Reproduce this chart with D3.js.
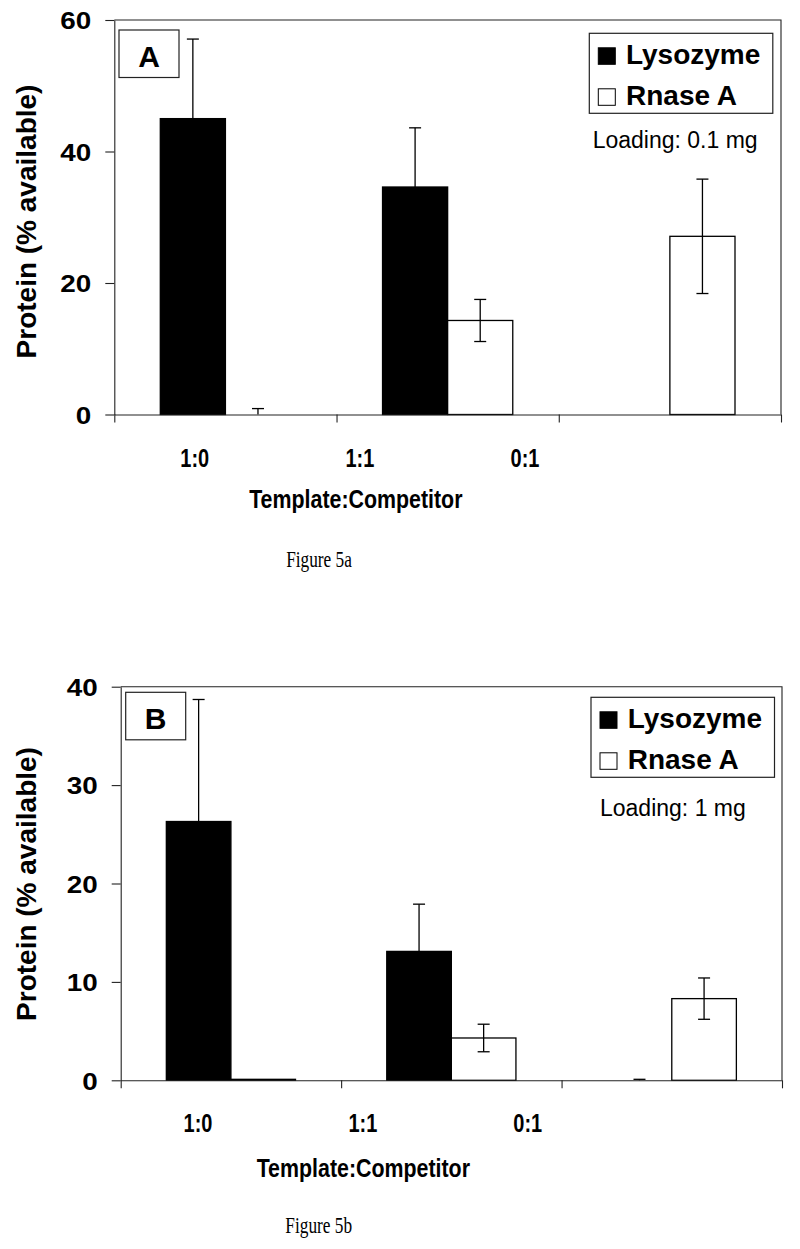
<!DOCTYPE html>
<html>
<head>
<meta charset="utf-8">
<script src="https://cdn.jsdelivr.net/npm/d3@7"></script>
<style>
  body { margin: 0; background: #fff; }
  svg { display: block; background: #fff; }
  text { font-family: Arial, 'Liberation Sans', sans-serif; fill: #000; }
  .caption { font-family: 'Times New Roman', 'Liberation Serif', serif; }
</style>
</head>
<body>
<svg id="fig" width="800" height="1249"></svg>
<script>
'use strict';

// values
var categories = ['1:0', '1:1', '0:1'];
var seriesNames = ['Lysozyme', 'Rnase A'];

var lysozymeA = [45.0, 34.6, 0];
var lysozymeErrA = [12.1, 9.0, 0];
var rnaseA = [0, 14.3, 27.1];
var rnaseErrA = [0.9, 3.2, 8.7];
var ticksA = [0, 20, 40, 60];

var lysozymeB = [26.3, 13.1, 0];
var lysozymeErrB = [12.4, 4.8, 0.1];
var rnaseB = [0.1, 4.3, 8.3];
var rnaseErrB = [0, 1.4, 2.1];
var ticksB = [0, 10, 20, 30, 40];

var panels = [
    {
        letter: 'A', loading: 'Loading: 0.1 mg', caption: 'Figure 5a',
        values: [lysozymeA, rnaseA], errors: [lysozymeErrA, rnaseErrA],
        ticks: ticksA,
        left: 114.3, right: 781, top: 20, bottom: 414.5,
        letterX: 119, letterY: 30,
        legendX: 589.3, legendY: 33.3,
        loadingX: 592.7, loadingY: 148.3,
        labelRange: [194.7, 525], labelY: 466.7,
        titleX: 355.8, titleY: 508.3,
        captionX: 319, captionY: 566.7,
        yTitleY: 221.5
    },
    {
        letter: 'B', loading: 'Loading: 1 mg', caption: 'Figure 5b',
        values: [lysozymeB, rnaseB], errors: [lysozymeErrB, rnaseErrB],
        ticks: ticksB,
        left: 120.7, right: 782, top: 686.7, bottom: 1080.3,
        letterX: 125.7, letterY: 692.3,
        legendX: 591, legendY: 697.3,
        loadingX: 600, loadingY: 816,
        labelRange: [198, 527.7], labelY: 1131.7,
        titleX: 363.3, titleY: 1176.7,
        captionX: 318.7, captionY: 1233.3,
        yTitleY: 884
    }
];

var svg = d3.select('#fig');
var lineColor = '#222';

function squeezedText(g, x, y, str, sx) {
    return g.append('text')
        .attr('transform', 'translate(' + x + ',' + y + ') scale(' + sx + ',1)')
        .attr('text-anchor', 'middle')
        .text(str);
}

panels.forEach(function(p) {
    var g = svg.append('g');
    var yMax = p.ticks[p.ticks.length - 1];

    var x = d3.scaleBand().domain(categories).range([p.left, p.right]);
    var bw = x.bandwidth();
    var barW = bw * 0.293;
    var xs = d3.scaleBand().domain(seriesNames).range([bw / 2 - barW, bw / 2 + barW]);
    var y = d3.scaleLinear().domain([0, yMax]).range([p.bottom, p.top]);

    var bars = [];
    categories.forEach(function(c, i) {
        seriesNames.forEach(function(s, j) {
            bars.push({ cat: c, s: s, idx: j, v: p.values[j][i], e: p.errors[j][i] });
        });
    });

    // bars
    g.selectAll('.bar')
        .data(bars)
        .enter().append('rect')
        .attr('class', 'bar')
        .attr('x', function(d) { return x(d.cat) + xs(d.s); })
        .attr('width', xs.bandwidth())
        .attr('y', function(d) { return y(d.v); })
        .attr('height', function(d) { return y(0) - y(d.v); })
        .attr('fill', function(d) { return d.idx === 0 ? '#000' : '#fff'; })
        .attr('stroke', '#000')
        .attr('stroke-width', 1.3);

    // error bars
    var err = g.selectAll('.err')
        .data(bars.filter(function(d) { return d.e > 0; }))
        .enter().append('g')
        .attr('class', 'err')
        .attr('transform', function(d) {
            return 'translate(' + (x(d.cat) + xs(d.s) + xs.bandwidth() / 2) + ',0)';
        })
        .attr('stroke', '#000')
        .attr('stroke-width', 1.3);
    err.append('line')
        .attr('y1', function(d) { return y(Math.max(0, d.v - d.e)); })
        .attr('y2', function(d) { return y(d.v + d.e); });
    err.append('line')
        .attr('x1', -6).attr('x2', 6)
        .attr('y1', function(d) { return y(d.v + d.e); })
        .attr('y2', function(d) { return y(d.v + d.e); });
    err.filter(function(d) { return d.v - d.e > 0; })
        .append('line')
        .attr('x1', -6).attr('x2', 6)
        .attr('y1', function(d) { return y(d.v - d.e); })
        .attr('y2', function(d) { return y(d.v - d.e); });

    // frame top + right
    g.append('path')
        .attr('d', 'M' + p.left + ',' + p.top + 'H' + p.right + 'V' + p.bottom)
        .attr('fill', 'none')
        .attr('stroke', lineColor)
        .attr('stroke-width', 1.1);

    // y axis
    var yAxis = g.append('g')
        .attr('transform', 'translate(' + p.left + ',0)')
        .call(d3.axisLeft(y).tickValues(p.ticks).tickSize(9).tickSizeOuter(0).tickPadding(14));
    yAxis.selectAll('path, line').attr('stroke', lineColor).attr('stroke-width', 1.1);
    yAxis.selectAll('text')
        .attr('font-size', 24)
        .attr('font-weight', 'bold')
        .attr('fill', '#000')
        .attr('font-family', 'Arial, Liberation Sans, sans-serif')
        .attr('dy', '0.37em')
        .attr('x', -23 / 1.16)
        .attr('transform', 'scale(1.16,1)');

    // x axis with ticks at category boundaries
    var xEdge = d3.scaleLinear().domain([0, categories.length]).range([p.left, p.right]);
    var xAxis = g.append('g')
        .attr('transform', 'translate(0,' + p.bottom + ')')
        .call(d3.axisBottom(xEdge).tickValues(d3.range(categories.length + 1))
            .tickFormat('').tickSize(8).tickSizeOuter(0));
    xAxis.selectAll('path, line').attr('stroke', lineColor).attr('stroke-width', 1.1);

    // category labels
    var labelX = d3.scalePoint().domain(categories).range(p.labelRange);
    categories.forEach(function(c) {
        squeezedText(g, labelX(c), p.labelY, c, 0.78)
            .attr('font-size', 25.6)
            .attr('font-weight', 'bold');
    });

    squeezedText(g, p.titleX, p.titleY, 'Template:Competitor', 0.835)
        .attr('font-size', 25.6)
        .attr('font-weight', 'bold');

    squeezedText(g, p.captionX, p.captionY, p.caption, 0.765)
        .attr('class', 'caption')
        .attr('font-size', 22.6);

    // y title
    g.append('text')
        .attr('transform', 'translate(36,' + p.yTitleY + ') rotate(-90)')
        .attr('text-anchor', 'middle')
        .attr('font-size', 28)
        .attr('font-weight', 'bold')
        .text('Protein (% available)');

    // panel letter
    g.append('rect')
        .attr('x', p.letterX).attr('y', p.letterY)
        .attr('width', 60).attr('height', 47.5)
        .attr('fill', '#fff')
        .attr('stroke', lineColor)
        .attr('stroke-width', 1.2);
    g.append('text')
        .attr('x', p.letterX + 30).attr('y', p.letterY + 37)
        .attr('text-anchor', 'middle')
        .attr('font-size', 30)
        .attr('font-weight', 'bold')
        .text(p.letter);

    // legend
    var leg = g.append('g').attr('transform', 'translate(' + p.legendX + ',' + p.legendY + ')');
    leg.append('rect')
        .attr('width', 183.5).attr('height', 80)
        .attr('fill', '#fff')
        .attr('stroke', lineColor)
        .attr('stroke-width', 1.2);
    var rows = leg.selectAll('.row')
        .data(seriesNames)
        .enter().append('g')
        .attr('class', 'row')
        .attr('transform', function(d, i) { return 'translate(0,' + (31 + i * 41) + ')'; });
    rows.append('rect')
        .attr('x', 9).attr('y', -16.5)
        .attr('width', 17).attr('height', 16.5)
        .attr('fill', function(d, i) { return i === 0 ? '#000' : '#fff'; })
        .attr('stroke', '#000')
        .attr('stroke-width', 1);
    rows.append('text')
        .attr('x', 36.7)
        .attr('font-size', 28)
        .attr('font-weight', 'bold')
        .text(function(d) { return d; });

    g.append('text')
        .attr('x', p.loadingX).attr('y', p.loadingY)
        .attr('font-size', 23)
        .text(p.loading);
});
</script>
</body>
</html>
